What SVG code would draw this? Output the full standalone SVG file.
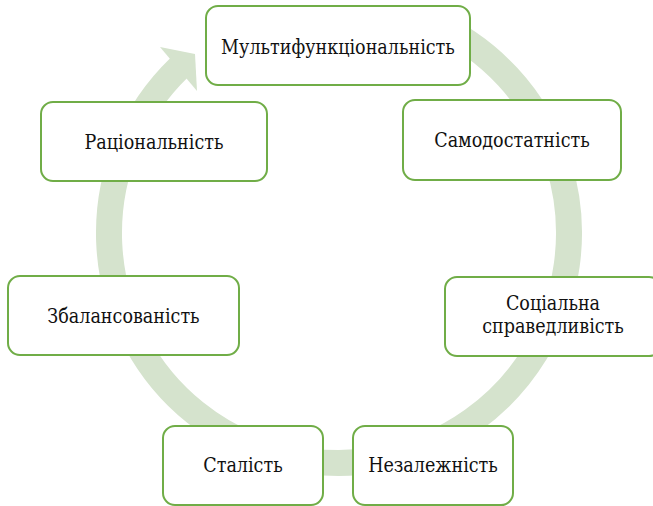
<svg xmlns="http://www.w3.org/2000/svg" width="653" height="506" viewBox="0 0 653 506">
<style>
.node rect{fill:#ffffff;stroke:#70ad47;stroke-width:2}
.node text{font-family:"DejaVu Serif",serif;font-stretch:condensed;font-size:19.5px;fill:#111111;text-anchor:middle}
.ring{fill:none;stroke:#d5e3cd;stroke-width:26}
.head{fill:#d5e3cd}
</style>
<rect width="653" height="506" fill="#ffffff"/>
<g id="connectors">
<path class="ring" d="M 432.5 22.9 A 230 230 0 1 1 179.2 67.6"/>
<polygon class="head" points="160,47 195,54 197,91"/>
</g>
<g id="n1" class="node"><rect x="206" y="6" width="264" height="79" rx="12"/><text x="338" y="53.5">Мультифункціональність</text></g>
<g id="n2" class="node"><rect x="403" y="100" width="218" height="80" rx="12"/><text x="512" y="147">Самодостатність</text></g>
<g id="n3" class="node"><rect x="445" y="277" width="216" height="79" rx="12"/><text x="553" y="310">Соціальна</text><text x="553" y="333">справедливість</text></g>
<g id="n4" class="node"><rect x="353" y="426" width="160" height="79" rx="12"/><text x="433" y="472">Незалежність</text></g>
<g id="n5" class="node"><rect x="163" y="426" width="160" height="79" rx="12"/><text x="243" y="472">Сталість</text></g>
<g id="n6" class="node"><rect x="8" y="276" width="231" height="79" rx="12"/><text x="123.5" y="323">Збалансованість</text></g>
<g id="n7" class="node"><rect x="41" y="102" width="226" height="79" rx="12"/><text x="154" y="148.5">Раціональність</text></g>
</svg>
